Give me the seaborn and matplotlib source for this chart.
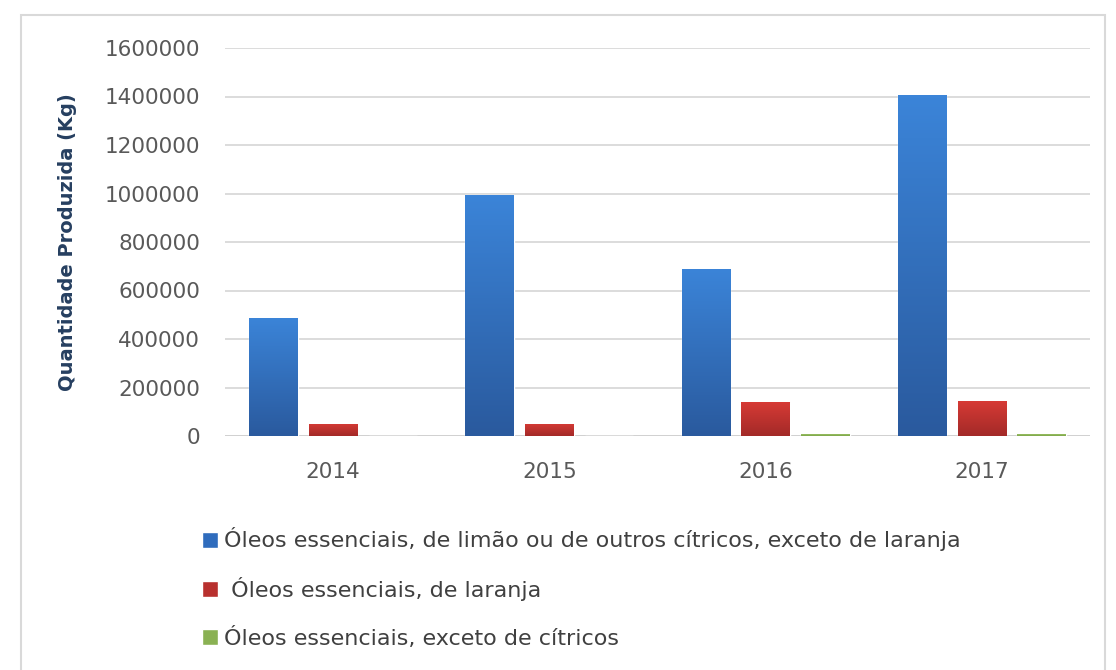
import numpy as np
import pandas as pd
import matplotlib
matplotlib.use("Agg")
import matplotlib.pyplot as plt
import seaborn as sns
from matplotlib.patches import Rectangle
from matplotlib.colors import LinearSegmentedColormap

# ---- data ----
anos = ["2014", "2015", "2016", "2017"]
series = [
    "Óleos essenciais, de limão ou de outros cítricos, exceto de laranja",
    " Óleos essenciais, de laranja",
    "Óleos essenciais, exceto de cítricos",
]
limao = [487000, 994000, 689000, 1406000]
laranja = [50000, 50000, 140000, 144000]
outros = [0, 0, 8000, 7000]
yticks = [0, 200000, 400000, 600000, 800000, 1000000, 1200000, 1400000, 1600000]

df = pd.DataFrame({
    "ano": anos * 3,
    "serie": [series[0]] * 4 + [series[1]] * 4 + [series[2]] * 4,
    "valor": limao + laranja + outros,
})

sns.set_theme(style="white")
plt.rcParams["font.family"] = ["DejaVu Sans"]

W, H = 1116, 670
fig = plt.figure(figsize=(W / 100, H / 100), dpi=100)
fig.patch.set_facecolor("white")
ax = fig.add_axes([225 / W, 1 - 436 / H, (1090 - 225) / W, (436 - 48) / H])

palette = ["#2f6cbd", "#b8302e", "#8ab153"]
sns.barplot(data=df, x="ano", y="valor", hue="serie", hue_order=series,
            order=anos, palette=palette, width=0.83, gap=0.19,
            saturation=1, ax=ax, legend=False, zorder=3)

# gradient fills clipped to bars
grads = [("#3b84d8", "#2a5a9e"), ("#d63a35", "#a32a28"), ("#9cc466", "#79a045")]
for cont, (c_top, c_bot) in zip(ax.containers, grads):
    cmap = LinearSegmentedColormap.from_list("g", [c_bot, c_top])
    for p in cont.patches:
        x0, y0 = p.get_x(), p.get_y()
        w, h = p.get_width(), p.get_height()
        if h <= 0:
            continue
        grad = np.linspace(0, 1, 64).reshape(-1, 1)
        im = ax.imshow(grad, cmap=cmap, aspect="auto", origin="lower",
                       extent=[x0, x0 + w, y0, y0 + h], zorder=3.5,
                       interpolation="bicubic")
        im.set_clip_path(p)

ax.set_xlim(-0.5, 3.5)
ax.set_ylim(0, 1600000)
ax.set_yticks(yticks)
ax.set_yticklabels([str(v) for v in yticks])
ax.grid(axis="y", color="#d9d9d9", linewidth=1.3, zorder=0)
ax.grid(axis="x", visible=False)
for s in ax.spines.values():
    s.set_visible(False)
ax.axhline(0, color="#d0d0d0", linewidth=1.3, zorder=2)
ax.tick_params(axis="y", length=0, pad=18, labelsize=15.5, labelcolor="#595959")
ax.tick_params(axis="x", length=0, pad=19, labelsize=15.5, labelcolor="#595959")
ax.set_xlabel("")
ax.set_ylabel("Quantidade Produzida (Kg)", fontsize=14, fontweight="bold",
              color="#263f60", labelpad=12)
ax.yaxis.set_label_coords((77 - 225) / (1090 - 225), 0.5)

# legend
handles = [cont.patches[0] for cont in ax.containers]
leg = fig.legend(handles, series, loc="center left",
                 bbox_to_anchor=(202 / W, 1 - 588 / H), frameon=False,
                 fontsize=16, labelcolor="#404040", borderpad=0,
                 borderaxespad=0, handlelength=0.72, handleheight=0.72,
                 handletextpad=0.25, labelspacing=1.15)

# outer chart border
fig.patches.append(Rectangle((21 / W, -0.05), (1105 - 21) / W, 1.05 - 15 / H,
                             transform=fig.transFigure, fill=False,
                             edgecolor="#d9d9d9", linewidth=1.5))

fig.savefig("out.png", dpi=100)
